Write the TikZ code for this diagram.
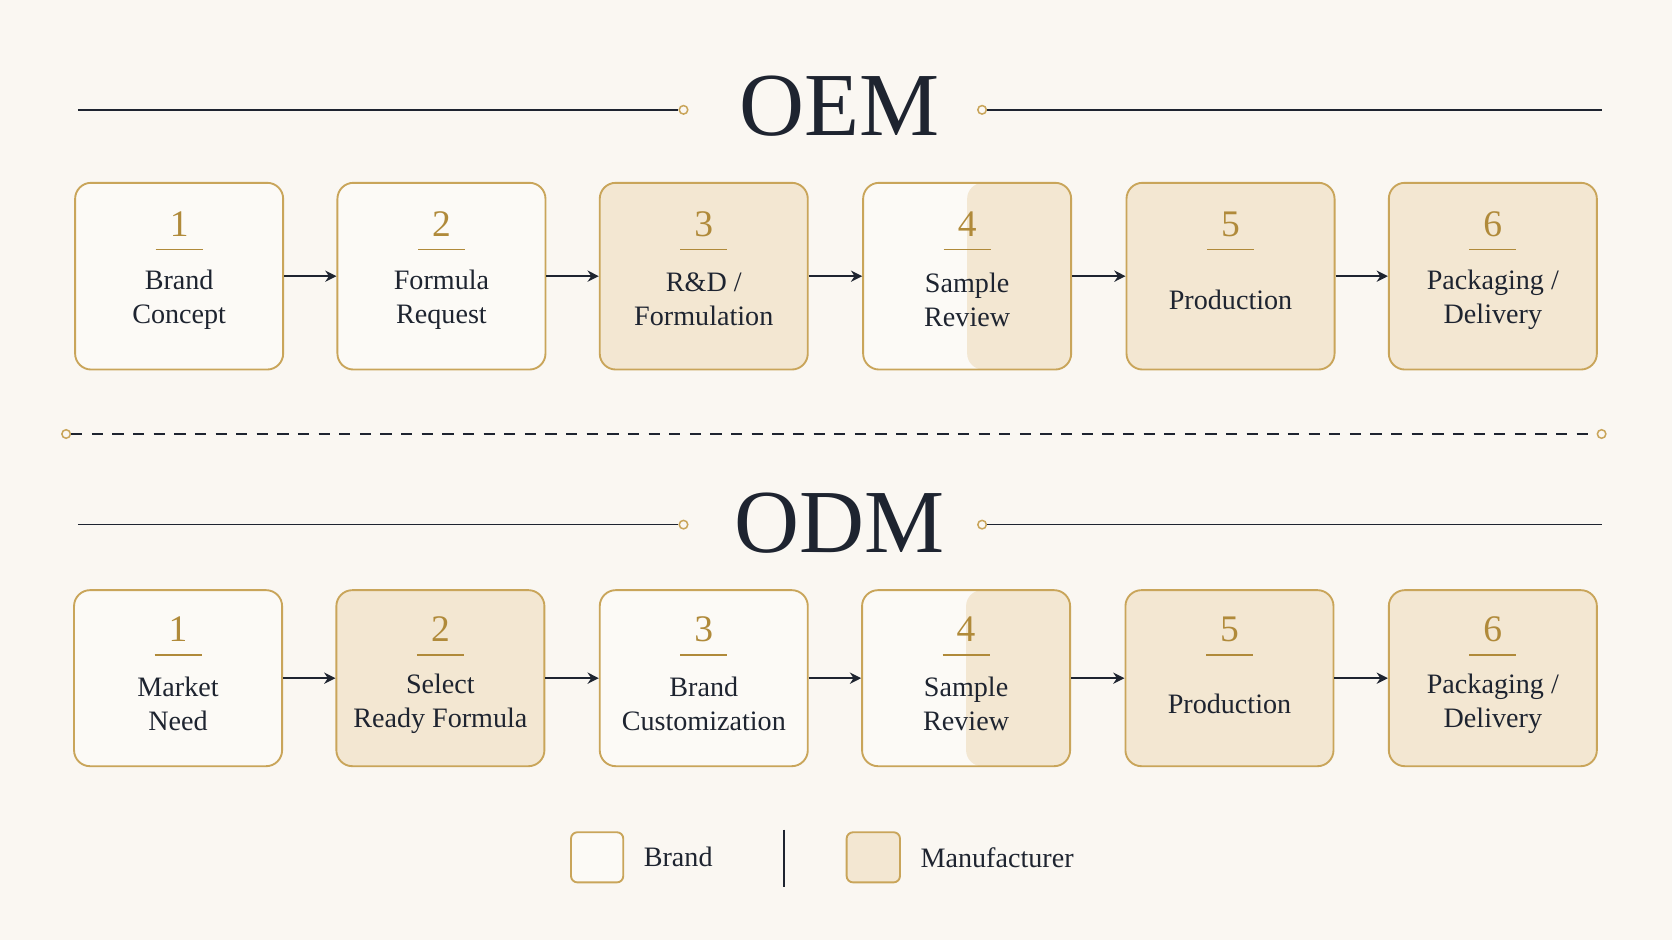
\documentclass[tikz,border=0pt]{standalone}
\usepackage{fontspec}
\setmainfont{Liberation Serif}
\usetikzlibrary{positioning,arrows.meta}
\definecolor{bgc}{HTML}{FAF7F2}
\definecolor{brandc}{HTML}{FCFAF6}
\definecolor{manuc}{HTML}{F3E7D2}
\definecolor{goldc}{HTML}{C9A55A}
\definecolor{numc}{HTML}{B08A3A}
\definecolor{inkc}{HTML}{1E2430}
\tikzset{
  stepbox/.style={draw=goldc, line width=0.5pt, rounded corners=0.15cm, minimum height=1.75cm, minimum width=1.95cm, inner sep=0pt},
  brand/.style={stepbox, fill=brandc},
  manu/.style={stepbox, fill=manuc},
  half/.style={stepbox, fill=brandc, path picture={\fill[manuc] (path picture bounding box.north) rectangle (path picture bounding box.south east);}},
  num/.style={text=numc, font=\fontsize{10pt}{10pt}\selectfont},
  lbl/.style={text=inkc, align=center, font=\fontsize{7.5pt}{9pt}\selectfont},
  flow/.style={-{Stealth[length=3pt,width=3pt]}, draw=inkc, line width=0.45pt},
  rule/.style={draw=inkc, line width=0.4pt},
  dot/.style={circle, draw=goldc, fill=bgc, line width=0.4pt, inner sep=0pt, minimum size=0.08cm},
  title/.style={text=inkc, font=\fontsize{24pt}{24pt}\selectfont}
}
\begin{document}
\begin{tikzpicture}[x=0.01cm,y=-0.01cm]
\fill[bgc] (0,0) rectangle (1568,882);
\useasboundingbox (0,0) rectangle (1568,882);
% OEM title
\node[title] (oem) at (787,100) {OEM};
\node[dot] (oa) at (641,103) {};
\node[dot] (ob) at (921,103) {};
\coordinate (oa0) at (73,103);
\coordinate (ob0) at (1502,103);
\draw[rule] (oa0) -- (oa);
\draw[rule] (ob) -- (ob0);
% OEM steps
\foreach \i/\x/\s/\t in {1/168/brand/{Brand\\Concept}, 2/414/brand/{Formula\\Request}, 3/660/manu/{R\&D /\\Formulation}, 4/907/half/{Sample\\Review}, 5/1154/manu/{Production}, 6/1400/manu/{Packaging /\\Delivery}}{
  \node[\s, minimum height=1.75cm] (e\i) at (\x,259) {};
  \node[num] (en\i) at (\x,210) {\i};
  \draw[numc, line width=0.5pt] (\x-22,234) -- (\x+22,234);
  \node[lbl] (el\i) at (\x,281) {\t};
}
\foreach \a/\b in {1/2,2/3,3/4,4/5,5/6} \draw[flow] (e\a) -- (e\b);
% divider
\node[dot] (da) at (62,407) {};
\node[dot] (db) at (1502,407) {};
\draw[rule, dash pattern=on 3pt off 2.5pt] (da) -- (db);
% ODM title
\node[title] (odm) at (787,491) {ODM};
\node[dot] (pa) at (641,492) {};
\node[dot] (pb) at (921,492) {};
\coordinate (pa0) at (73,492);
\coordinate (pb0) at (1502,492);
\draw[rule] (pa0) -- (pa);
\draw[rule] (pb) -- (pb0);
% ODM steps
\foreach \i/\x/\s/\t in {1/167/brand/{Market\\Need}, 2/413/manu/{Select\\Ready Formula}, 3/660/brand/{Brand\\Customization}, 4/906/half/{Sample\\Review}, 5/1153/manu/{Production}, 6/1400/manu/{Packaging /\\Delivery}}{
  \node[\s, minimum height=1.65cm] (d\i) at (\x,636) {};
  \node[num] (dn\i) at (\x,590) {\i};
  \draw[numc, line width=0.5pt] (\x-22,614) -- (\x+22,614);
  \node[lbl] (dl\i) at (\x,660) {\t};
}
\foreach \a/\b in {1/2,2/3,3/4,4/5,5/6} \draw[flow] (d\a) -- (d\b);
% legend
\node[brand, minimum width=0.49cm, minimum height=0.47cm, rounded corners=0.06cm] (lb) at (560,804) {};
\node[lbl, right=0.06cm of lb] (lbt) {Brand};
\coordinate (lv0) at (735,778);
\coordinate (lv1) at (735,832);
\draw[rule] (lv0) -- (lv1);
\node[manu, minimum width=0.5cm, minimum height=0.47cm, rounded corners=0.06cm] (lm) at (819,804) {};
\node[lbl, right=0.06cm of lm] (lmt) {Manufacturer};
\end{tikzpicture}
\end{document}
